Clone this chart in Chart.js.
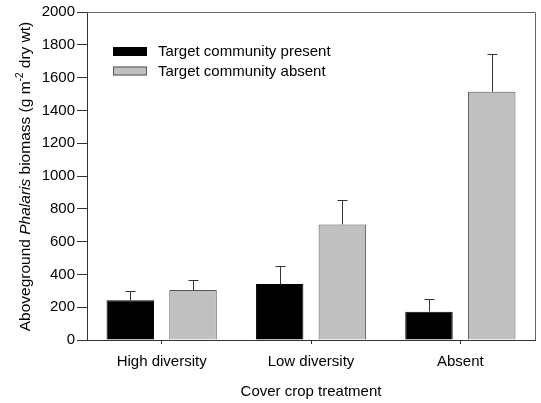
<!DOCTYPE html>
<html><head><meta charset="utf-8">
<script src="https://cdn.jsdelivr.net/npm/chart.js@4"></script>
<style>html,body{margin:0;padding:0;background:#fff}#wrap{width:541px;height:403px}</style>
</head><body><div id="wrap"><canvas id="c" width="541" height="403"></canvas></div>
<script>
const categories = ["High diversity", "Low diversity", "Absent"];
const seriesNames = ["Target community present", "Target community absent"];
const presentMeans = [242, 341, 173];
const presentErr = [57, 108, 75];
const absentMeans = [305, 705, 1514];
const absentErr = [59, 150, 232];
const yTickValues = [0,200,400,600,800,1000,1200,1400,1600,1800,2000];

const FONT = "'Liberation Sans', Arial, sans-serif";
const FS = 15;
const TFS = 15.5;

const errorBars = {
  id: 'errorBars',
  afterDatasetsDraw(chart) {
    const ctx = chart.ctx, ys = chart.scales.y;
    const errs = [presentErr, absentErr];
    ctx.save();
    ctx.strokeStyle = '#333'; ctx.lineWidth = 1;
    chart.data.datasets.forEach((ds, di) => {
      const meta = chart.getDatasetMeta(di);
      meta.data.forEach((el, i) => {
        const x = Math.round(el.x) + 0.5;
        const yTop = Math.round(ys.getPixelForValue(ds.data[i] + errs[di][i])) + 0.5;
        ctx.beginPath();
        ctx.moveTo(x, el.y); ctx.lineTo(x, yTop);
        ctx.moveTo(x - 5, yTop); ctx.lineTo(x + 5, yTop);
        ctx.stroke();
      });
    });
    ctx.restore();
  }
};

const frame = {
  id: 'frame',
  afterDraw(chart) {
    const {ctx, chartArea: a} = chart;
    ctx.save();
    ctx.strokeStyle = '#666'; ctx.lineWidth = 1;
    ctx.beginPath();
    ctx.moveTo(a.left, a.top + 0.5); ctx.lineTo(a.right + 0.5, a.top + 0.5); ctx.lineTo(a.right + 0.5, a.bottom);
    ctx.stroke();
    // legend
    const lx = a.left + 26, ly = a.top + 35;
    const fills = ['#000', '#c0c0c0'];
    ctx.font = FS + 'px ' + FONT; ctx.textBaseline = 'middle'; ctx.fillStyle = '#000';
    seriesNames.forEach((n, i) => {
      const y = ly + i * 19.5;
      ctx.fillStyle = fills[i];
      ctx.fillRect(lx, y, 34, 9);
      ctx.strokeStyle = i === 0 ? '#000' : '#555';
      ctx.strokeRect(lx + 0.5, y + 0.5, 33, 8);
      ctx.fillStyle = '#000';
      ctx.fillText(n, lx + 45, y + 5);
    });
    // y title with mixed styles
    const parts = [
      {t: 'Aboveground ', f: TFS + 'px ' + FONT, dy: 0},
      {t: 'Phalaris', f: 'italic ' + TFS + 'px ' + FONT, dy: 0},
      {t: ' biomass (g m', f: TFS + 'px ' + FONT, dy: 0},
      {t: '-2', f: '10px ' + FONT, dy: -6},
      {t: ' dry wt)', f: TFS + 'px ' + FONT, dy: 0}
    ];
    let total = 0;
    parts.forEach(p => { ctx.font = p.f; p.w = ctx.measureText(p.t).width; total += p.w; });
    ctx.translate(26, 176.5);
    ctx.rotate(-Math.PI / 2);
    ctx.textBaseline = 'middle'; ctx.textAlign = 'left';
    let x = -total / 2;
    parts.forEach(p => { ctx.font = p.f; ctx.fillText(p.t, x, p.dy); x += p.w; });
    ctx.restore();
  }
};

new Chart(document.getElementById('c'), {
  type: 'bar',
  data: {
    labels: categories,
    datasets: [
      {label: seriesNames[0], data: presentMeans, backgroundColor: '#000', borderColor: '#000', borderWidth: 1},
      {label: seriesNames[1], data: absentMeans, backgroundColor: '#c0c0c0', borderColor: '#555', borderWidth: 1}
    ]
  },
  options: {
    responsive: false, animation: false,
    devicePixelRatio: 1,
    categoryPercentage: 0.84, barPercentage: 0.757,
    layout: {padding: {top: 12, right: 6, left: 0, bottom: 0}},
    plugins: {legend: {display: false}, tooltip: {enabled: false}},
    scales: {
      x: {
        grid: {drawOnChartArea: false, offset: false, tickLength: 4, color: '#333'},
        border: {color: '#333'},
        ticks: {color: '#000', font: {family: FONT, size: FS}, padding: 9},
        title: {display: true, text: 'Cover crop treatment', color: '#000', font: {family: FONT, size: FS}, padding: {top: 4, bottom: 2}},
        afterFit(s) { s.height = 63; }
      },
      y: {
        min: 0, max: 2000,
        afterBuildTicks(s) { s.ticks = yTickValues.map(v => ({value: v})); },
        grid: {drawOnChartArea: false, tickLength: 10, color: '#333'},
        border: {color: '#333'},
        ticks: {color: '#000', font: {family: FONT, size: FS}, padding: 2, callback: v => String(v)},
        afterFit(s) { s.width = 87; }
      }
    }
  },
  plugins: [errorBars, frame]
});
</script>
</body></html>
